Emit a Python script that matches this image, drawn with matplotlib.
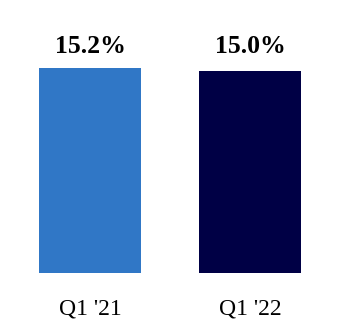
import matplotlib.pyplot as plt

quarters = ["Q1 '21", "Q1 '22"]
values = [15.2, 15.0]
colors = ['#3077c6', '#000045']

plt.rcParams['font.family'] = ['Liberation Serif', 'DejaVu Serif']

fig = plt.figure(figsize=(3.4, 3.3), dpi=100)
ax = fig.add_axes([0, 0.172, 1, 0.7357])

x = range(len(quarters))
bars = ax.bar(x, values, width=0.6375, color=colors)

# value labels sit on a common line above the bars
for bar, v in zip(bars, values):
    ax.text(bar.get_x() + bar.get_width() / 2, 16.35, f'{v:.1f}%',
            ha='center', va='baseline', fontsize=18.5, fontweight='bold')

ax.set_xlim(-0.5625, 1.5625)
ax.set_ylim(0, 18)
ax.set_xticks(list(x))
ax.set_xticklabels(quarters, fontsize=17)
ax.tick_params(axis='x', length=0, pad=18)
ax.set_yticks([])
for s in ax.spines.values():
    s.set_visible(False)

fig.savefig('out.png', dpi=100)
